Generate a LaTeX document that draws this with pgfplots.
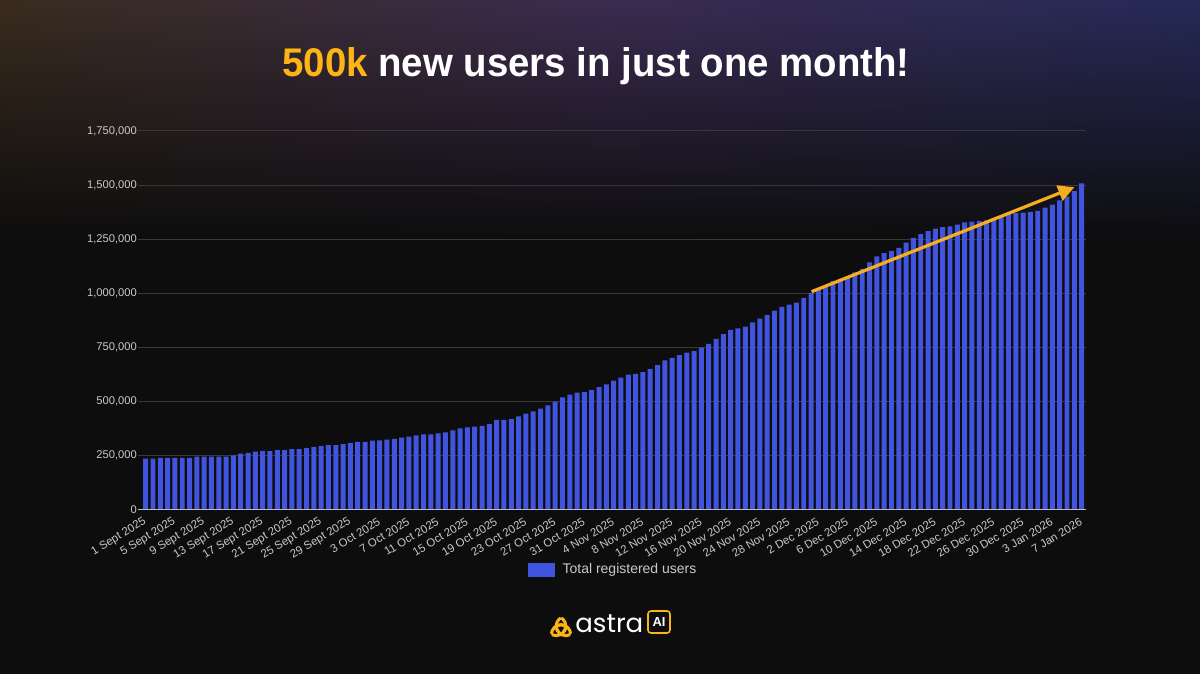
\documentclass[border=0pt]{standalone}
\usepackage{fontspec}
\setmainfont{Liberation Sans}
\newfontfamily\logofont{Poppins}
\usepackage{pgfplots}
\usepackage{pgfplotstable}
\pgfplotsset{compat=1.18}
\usetikzlibrary{arrows.meta,fadings}

\definecolor{bg}{HTML}{0D0D0D}
\definecolor{barblue}{HTML}{4054DF}
\definecolor{gold}{HTML}{FDB515}
\definecolor{arrowgold}{HTML}{F6AE1E}
\definecolor{gridgray}{HTML}{383838}
\definecolor{zerogray}{HTML}{BDBDBD}
\definecolor{ticktext}{HTML}{C9C9C9}
\definecolor{glowwarm}{HTML}{3A2C1E}
\definecolor{glowmid}{HTML}{3B2C50}
\definecolor{glowcool}{HTML}{262A58}

% Daily total of registered users, 1 Sept 2025 (day 0) to 7 Jan 2026 (day 128)
\pgfplotstableread{
day users
0 235000
1 235000
2 239000
3 239000
4 239000
5 239000
6 239000
7 244000
8 244000
9 244000
10 244000
11 244000
12 250000
13 258000
14 262000
15 267000
16 270000
17 270000
18 275000
19 275000
20 279000
21 279000
22 284000
23 289000
24 293000
25 298000
26 298000
27 302000
28 307000
29 313000
30 313000
31 318000
32 320000
33 323000
34 327000
35 332000
36 337000
37 343000
38 347000
39 347000
40 352000
41 356000
42 366000
43 375000
44 380000
45 383000
46 387000
47 395000
48 414000
49 414000
50 418000
51 431000
52 443000
53 454000
54 466000
55 481000
56 499000
57 518000
58 531000
59 540000
60 543000
61 553000
62 566000
63 578000
64 596000
65 610000
66 623000
67 627000
68 635000
69 650000
70 668000
71 689000
72 701000
73 714000
74 725000
75 732000
76 748000
77 766000
78 789000
79 811000
80 831000
81 837000
82 846000
83 865000
84 882000
85 899000
86 920000
87 937000
88 947000
89 956000
90 978000
91 1001000
92 1016000
93 1031000
94 1057000
95 1066000
96 1077000
97 1096000
98 1112000
99 1143000
100 1170000
101 1185000
102 1196000
103 1210000
104 1234000
105 1256000
106 1273000
107 1287000
108 1299000
109 1306000
110 1309000
111 1317000
112 1327000
113 1331000
114 1334000
115 1337000
116 1345000
117 1351000
118 1364000
119 1370000
120 1373000
121 1376000
122 1381000
123 1396000
124 1410000
125 1429000
126 1446000
127 1472000
128 1508000
}\userdata

\begin{document}
\begin{tikzpicture}[x=1pt,y=1pt]
\useasboundingbox (0,0) rectangle (600,337);
% page background with a soft coloured glow along the top edge
\fill[bg] (0,0) rectangle (600,337);
\shade[left color=glowwarm, right color=glowcool, middle color=glowmid, path fading=south]
  (0,215) rectangle (600,337);

% headline
\node[anchor=base, text=white, inner sep=0pt] at (298,298.6)
  {\scalebox{0.96}[1]{\bfseries\fontsize{20}{24}\selectfont\textcolor{gold}{500k} new users in just one month!}};

\begin{axis}[
  at={(69pt,82.25pt)}, anchor=south west,
  scale only axis, width=474pt, height=189.25pt,
  xmin=-1.05, xmax=128.6, ymin=0, ymax=1750000,
  ybar, bar width=0.68,
  axis line style={draw=none},
  major tick length=0pt,
  ymajorgrids, grid style={gridgray, line width=0.5pt},
  ytick={0,250000,...,1750000},
  scaled y ticks=false,
  yticklabel style={font=\fontsize{5.6}{6.5}\selectfont, text=ticktext, xshift=3pt,
    /pgf/number format/fixed, /pgf/number format/1000 sep={,},
    /pgf/number format/assume math mode=true},
  xtick={0,4,...,128},
  xticklabels={1 Sept 2025, 5 Sept 2025, 9 Sept 2025, 13 Sept 2025, 17 Sept 2025,
    21 Sept 2025, 25 Sept 2025, 29 Sept 2025, 3 Oct 2025, 7 Oct 2025, 11 Oct 2025,
    15 Oct 2025, 19 Oct 2025, 23 Oct 2025, 27 Oct 2025, 31 Oct 2025, 4 Nov 2025,
    8 Nov 2025, 12 Nov 2025, 16 Nov 2025, 20 Nov 2025, 24 Nov 2025, 28 Nov 2025,
    2 Dec 2025, 6 Dec 2025, 10 Dec 2025, 14 Dec 2025, 18 Dec 2025, 22 Dec 2025,
    26 Dec 2025, 30 Dec 2025, 3 Jan 2026, 7 Jan 2026},
  xticklabel style={rotate=31, anchor=east, inner sep=0pt, xshift=-3pt, yshift=-4.8pt,
    font=\fontsize{5.7}{6.5}\selectfont, text=ticktext},
  legend style={at={(0.5,-0.16)}, anchor=center, xshift=1pt, draw=none, fill=none,
    text=ticktext, font=\fontsize{7}{8}\selectfont},
  legend image code/.code={\fill[barblue] (0pt,-3.5pt) rectangle (13.5pt,3.5pt);
    \path (15.5pt,0pt);},
  clip=false,
]
\addplot[fill=barblue, draw=none] table[x=day, y=users] {\userdata};
\addlegendentry{Total registered users}
% baseline
\draw[zerogray, line width=0.8pt] (rel axis cs:0,0) -- (rel axis cs:1,0);
% growth arrow over the last month
\draw[arrowgold, line width=1.6pt, -{Triangle[length=8pt, width=8pt]}]
  (axis cs:91.07,1007000) -- (axis cs:127.0,1490000);
\end{axis}

% brand mark: three interlaced lenses
\def\R{4.8}
\coordinate (cA) at (278.1,23.99);
\coordinate (cB) at (282.9,23.99);
\coordinate (cC) at (280.5,19.83);
\foreach \p/\q in {cA/cB, cB/cA, cB/cC, cC/cB, cC/cA, cA/cC}{
  \begin{scope}
    \clip (\q) circle (\R);
    \draw[gold, line width=1.5pt] (\p) circle (\R);
  \end{scope}
}
\node[anchor=base west, inner sep=0pt, text=white] at (287.5,20.5)
  {\logofont\fontsize{13}{15}\selectfont astra};
\draw[gold, line width=0.8pt, rounded corners=1.5pt, fill=bg] (324,20.5) rectangle (335,31.5);
\node[text=white, inner sep=0pt] at (329.5,26) {\bfseries\fontsize{6.5}{7}\selectfont AI};
\end{tikzpicture}
\end{document}
